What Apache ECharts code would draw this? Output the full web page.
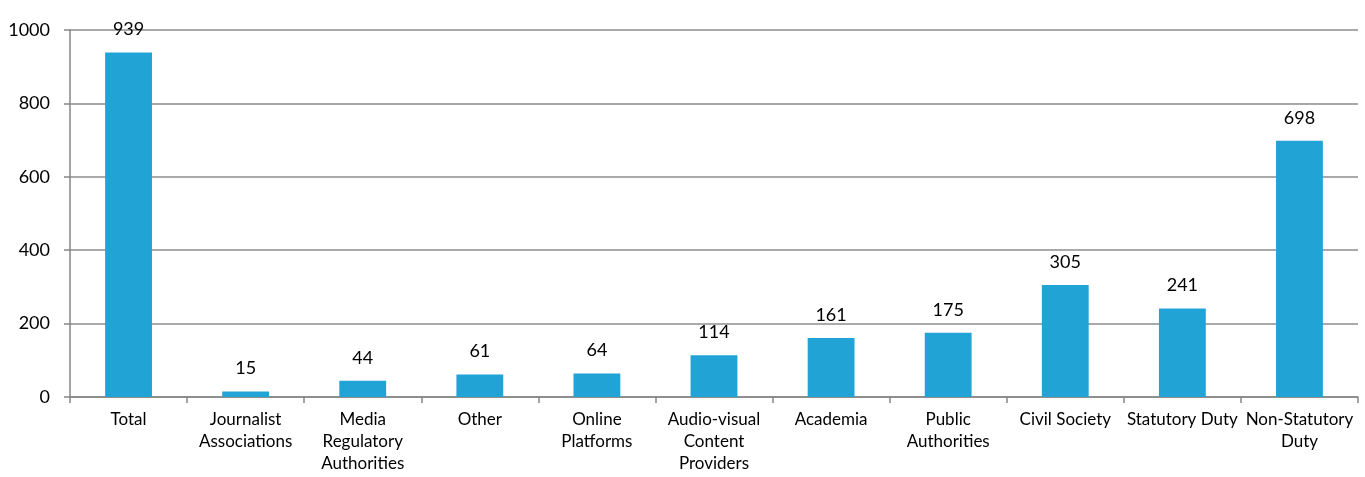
<!DOCTYPE html>
<html>
<head>
<meta charset="utf-8">
<script src="https://cdn.jsdelivr.net/npm/echarts@6/dist/echarts.min.js"></script>
<style>
html,body{margin:0;padding:0;background:#fff;}
#chart{width:1365px;height:477px;}
</style>
</head>
<body>
<div id="chart"></div>
<script>
const categories = ["Total", "Journalist\nAssociations", "Media\nRegulatory\nAuthorities", "Other", "Online\nPlatforms", "Audio-visual\nContent\nProviders", "Academia", "Public\nAuthorities", "Civil Society", "Statutory Duty", "Non-Statutory\nDuty"];
const values = [939, 15, 44, 61, 64, 114, 161, 175, 305, 241, 698];
const yTicks = { min: 0, max: 1000, interval: 200 };

const chart = echarts.init(document.getElementById('chart'), null, { renderer: 'canvas' });
const font = 'Lato, "Open Sans", sans-serif';
chart.setOption({
  animation: false,
  grid: { left: 70, right: 7, top: 30, bottom: 80, containLabel: false },
  xAxis: {
    type: 'category',
    data: categories,
    axisLine: { lineStyle: { color: '#868686', width: 1.5 } },
    axisTick: { show: true, alignWithLabel: false, length: 6, lineStyle: { color: '#868686', width: 1.5 } },
    axisLabel: { color: '#000', fontFamily: font, fontSize: 17, lineHeight: 22, margin: 12, interval: 0 }
  },
  yAxis: {
    type: 'value',
    min: yTicks.min, max: yTicks.max, interval: yTicks.interval,
    axisLine: { show: true, lineStyle: { color: '#868686', width: 1.5 } },
    axisTick: { show: true, length: 6, lineStyle: { color: '#868686', width: 1.5 } },
    axisLabel: { color: '#000', fontFamily: font, fontSize: 18, margin: 20, formatter: v => String(v) },
    splitLine: { lineStyle: { color: '#8c8c8c', width: 1.5 } }
  },
  series: [{
    type: 'bar',
    data: values,
    barCategoryGap: '60%',
    itemStyle: { color: '#21A3D6' },
    label: { show: true, position: 'top', distance: 14, color: '#000', fontFamily: font, fontSize: 18 }
  }]
});
</script>
</body>
</html>
